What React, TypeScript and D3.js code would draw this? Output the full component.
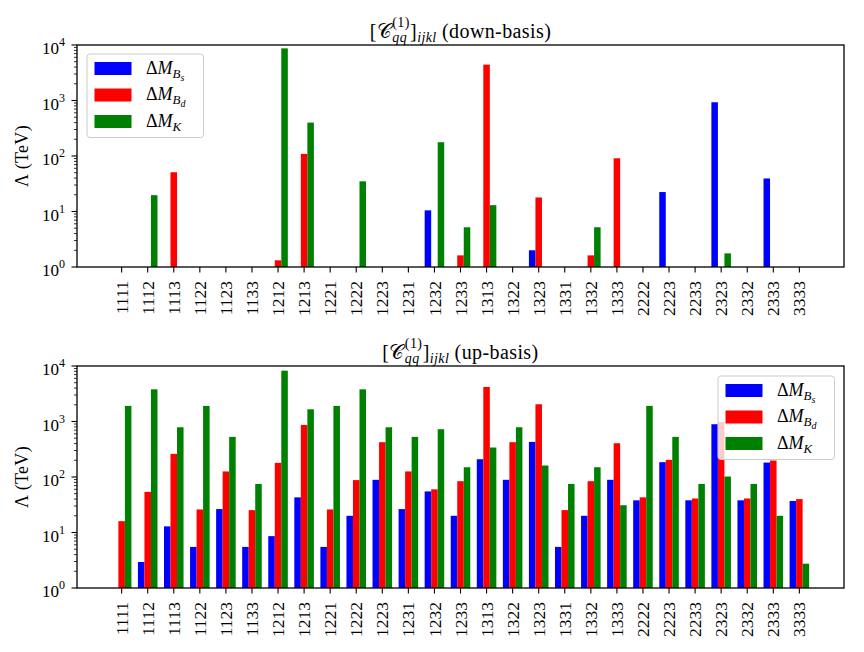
import * as d3 from 'd3'

// bar labels ijkl
const categories = [
  '1111', '1112', '1113', '1122', '1123', '1133', '1212', '1213', '1221',
  '1222', '1223', '1231', '1232', '1233', '1313', '1322', '1323', '1331',
  '1332', '1333', '2222', '2223', '2233', '2323', '2332', '2333', '3333',
]

// down-basis bounds (TeV), null = no bar
const downBs = [null, null, null, null, null, null, null, null, null, null, null, null, 10.5, null, null, null, 2.0, null, null, null, null, 22.4, null, 930, null, 39.4, null]
const downBd = [null, null, 51, null, null, null, 1.32, 109, null, null, null, null, null, 1.62, 4430, null, 17.9, null, 1.62, 91, null, null, null, null, null, null, null]
const downK = [null, 19.7, null, null, null, null, 8700, 400, null, 35, null, null, 177, 5.2, 13, null, null, null, 5.2, null, null, null, null, 1.76, null, null, null]

// up-basis bounds (TeV)
const upBs = [null, 2.94, 12.9, 5.5, 26.4, 5.5, 8.6, 43, 5.5, 20, 89, 26.4, 55, 20, 209, 89, 429, 5.5, 20, 89, 38, 185, 38, 893, 38, 182, 37]
const upBd = [16, 54, 261, 26, 126, 25.3, 180, 868, 26, 88, 424, 126, 60, 84, 4190, 424, 2045, 25.3, 84, 406, 43, 204, 41, 983, 41, 198, 40]
const upK = [1910, 3800, 788, 1910, 528, 75, 8240, 1660, 1910, 3800, 788, 528, 726, 150, 340, 788, 161, 75, 150, 31, 1910, 528, 75, 102, 75, 20, 2.74]

const yTicks = [0, 1, 2, 3, 4]

const colors = ['#0000ff', '#ff0000', '#008000']
const legendSubs = [['B', 's'], ['B', 'd'], ['K', '']]

const serif = { fontFamily: '"Liberation Serif", "Times New Roman", serif' }

const W = 864
const H = 652
const left = 77
const right = 844

const panels = [
  { basis: 'down-basis', top: 45, bottom: 267, series: [downBs, downBd, downK], legendX: 87, legendY: 54 },
  { basis: 'up-basis', top: 366, bottom: 588, series: [upBs, upBd, upK], legendX: 718, legendY: 376 },
]

function Title({ cx, y, basis }: { cx: number; y: number; basis: string }) {
  return (
    <text x={cx} y={y} textAnchor="middle" fontSize={20} style={serif} letterSpacing={0.4}>
      <tspan>[</tspan>
      <tspan>𝒞</tspan>
      <tspan fontSize={14} dy={-11}>(1)</tspan>
      <tspan fontSize={14} fontStyle="italic" dx={-17.5} dy={15}>qq</tspan>
      <tspan dx={3} dy={-4}>]</tspan>
      <tspan fontSize={14} fontStyle="italic" dy={4}>ijkl</tspan>
      <tspan dy={-4}> ({basis})</tspan>
    </text>
  )
}

function Legend({ x0, y0 }: { x0: number; y0: number }) {
  return (
    <g>
      <rect x={x0} y={y0} width={116.5} height={83.5} rx={3} fill="white" fillOpacity={0.8} stroke="#cccccc" strokeWidth={1} />
      {colors.map((c, i) => {
        const cy = y0 + 14.5 + i * 26.5
        return (
          <g key={i}>
            <rect x={x0 + 7.5} y={cy - 6.5} width={37} height={13} fill={c} />
            <text x={x0 + 59} y={cy + 5} fontSize={18} style={serif}>
              <tspan>Δ</tspan>
              <tspan fontStyle="italic">M</tspan>
              <tspan fontSize={13} fontStyle="italic" dy={4}>{legendSubs[i][0]}</tspan>
              {legendSubs[i][1] && (
                <tspan fontSize={10} fontStyle="italic" dy={3}>{legendSubs[i][1]}</tspan>
              )}
            </text>
          </g>
        )
      })}
    </g>
  )
}

function Panel({ p }: { p: (typeof panels)[number] }) {
  const x = d3.scaleLinear().domain([-1.7125, 27.7125]).range([left, right])
  const y = d3.scaleLog().domain([1, 1e4]).range([p.bottom, p.top])
  const offsets = [-0.25, 0, 0.25]
  const bw = x(0.25) - x(0)
  const minors: number[] = []
  yTicks.slice(0, -1).forEach(k => {
    for (let m = 2; m <= 9; m++) minors.push(m * Math.pow(10, k))
  })
  const midY = (p.top + p.bottom) / 2

  return (
    <g>
      <Title cx={(left + right) / 2} y={p.top - 7} basis={p.basis} />
      {p.series.map((vals, s) =>
        vals.map((v, i) =>
          v == null ? null : (
            <rect
              key={`${s}-${i}`}
              x={x(i + offsets[s] - 0.125)}
              y={y(v)}
              width={bw}
              height={y(1) - y(v)}
              fill={colors[s]}
            />
          )
        )
      )}
      <rect x={left} y={p.top} width={right - left} height={p.bottom - p.top} fill="none" stroke="black" strokeWidth={1.3} />
      {minors.map(m => (
        <line key={m} x1={left - 3} x2={left} y1={y(m)} y2={y(m)} stroke="black" strokeWidth={0.8} />
      ))}
      {yTicks.map(k => (
        <g key={k}>
          <line x1={left - 5.5} x2={left} y1={y(Math.pow(10, k))} y2={y(Math.pow(10, k))} stroke="black" strokeWidth={1.1} />
          <text x={left - 12} y={y(Math.pow(10, k)) + 9} textAnchor="end" fontSize={17} style={serif}>
            10<tspan fontSize={12} dy={-8}>{k}</tspan>
          </text>
        </g>
      ))}
      {categories.map((c, i) => (
        <g key={c}>
          <line x1={x(i)} x2={x(i)} y1={p.bottom} y2={p.bottom + 5.5} stroke="black" strokeWidth={1.1} />
          <text
            transform={`translate(${x(i)},${p.bottom + 14}) rotate(-90)`}
            textAnchor="end"
            dy="0.35em"
            fontSize={17.5}
            style={serif}
          >
            {c}
          </text>
        </g>
      ))}
      <text transform={`translate(22,${midY}) rotate(-90)`} textAnchor="middle" dy="0.35em" fontSize={18} style={serif} letterSpacing={0.3}>
        Λ (TeV)
      </text>
      <Legend x0={p.legendX} y0={p.legendY} />
    </g>
  )
}

export default function App() {
  return (
    <svg width={W} height={H} style={{ position: 'absolute', left: 0, top: 0, background: 'white' }}>
      {panels.map(p => (
        <Panel key={p.basis} p={p} />
      ))}
    </svg>
  )
}
